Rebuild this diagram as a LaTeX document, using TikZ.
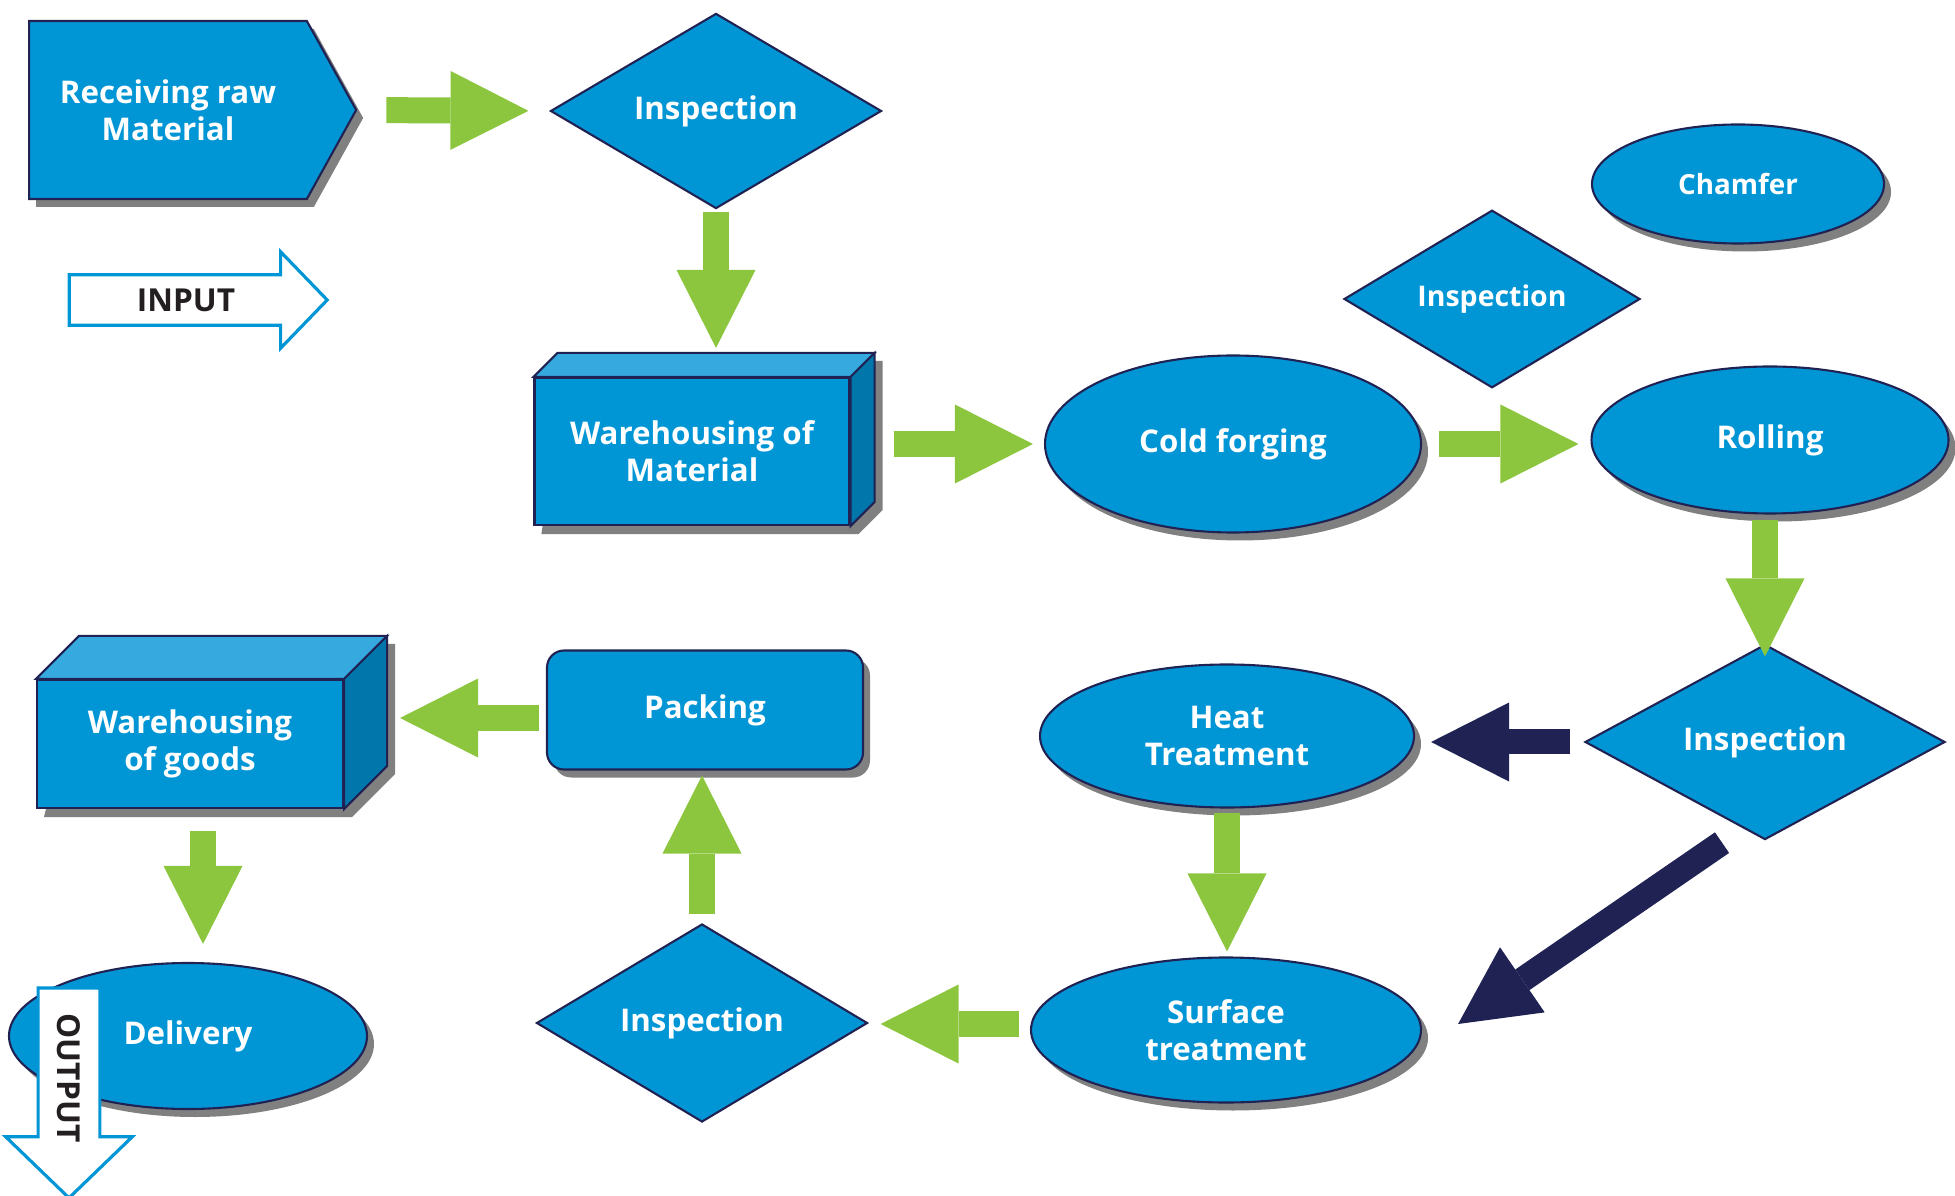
\documentclass[tikz,border=0pt]{standalone}
\usepackage{fontspec}
\setmainfont{Open Sans}
\usepackage{tikz}
\usetikzlibrary{arrows.meta, calc, positioning, shapes.geometric, shapes.symbols,
                shapes.arrows, shadows, backgrounds}
\definecolor{pBlue}{HTML}{0096D6}
\definecolor{pTop}{HTML}{36A9DF}
\definecolor{pSide}{HTML}{0076AB}
\definecolor{pNavy}{HTML}{1F2253}
\definecolor{pGreen}{HTML}{8CC63F}
\definecolor{pInk}{HTML}{231F20}

\begin{document}
\begin{tikzpicture}[
  cast/.style={drop shadow={fill=black!50, opacity=1, shadow xshift=0.07cm, shadow yshift=-0.08cm}},
  blk/.style={draw=pNavy, line width=0.6pt, fill=pBlue, text=white, align=center, inner sep=0pt,
              font=\bfseries\fontsize{8.9}{10.5}\selectfont},
  oval/.style={blk, ellipse, cast},
  check/.style={blk, diamond},
  io/.style={single arrow, draw=pBlue, line width=0.9pt, fill=white, text=pInk, inner xsep=0pt,
             single arrow tip angle=92, font=\bfseries\fontsize{9}{10}\selectfont},
  garr/.style={draw=pGreen, line width=0.26cm, -{Triangle[length=0.78cm, width=0.79cm, line width=0pt]}},
  narr/.style={garr, draw=pNavy, line width=0.25cm}]
  \useasboundingbox (0,0) rectangle (19.55,-11.96);
  % top row: raw material in
  \node[blk, signal, signal to=east, signal pointer angle=122, cast,
        minimum width=3.27cm, minimum height=1.78cm] (recv) at (1.68,-1.10) {Receiving raw\\ Material};
  \node[check, minimum width=3.31cm, minimum height=1.95cm] (insp1) at (7.16,-1.11) {Inspection};
  \node[io, inner ysep=0.122cm, single arrow head extend=0.23cm, minimum height=2.58cm,
        minimum width=0.93cm] (in) at (1.86,-3.00) {INPUT\hspace{0.10cm}};
  \node[blk, minimum width=3.15cm, minimum height=1.47cm] (wm) at (6.92,-4.515) {Warehousing of\\ Material};
  % forming
  \node[oval, minimum width=3.76cm, minimum height=1.77cm] (cold) at (12.33,-4.44) {Cold forging};
  \node[oval, minimum width=3.57cm, minimum height=1.47cm] (roll) at (17.70,-4.40) {Rolling};
  \node[oval, minimum width=2.92cm, minimum height=1.19cm, font=\bfseries\fontsize{7.9}{10}\selectfont] (cham) at (17.38,-1.84) {Chamfer};
  \node[check, minimum width=2.96cm, minimum height=1.62cm, font=\bfseries\fontsize{8.1}{10}\selectfont] (insp2) at (14.92,-2.99) {Inspection};
  \node[check, minimum width=3.60cm, minimum height=1.94cm] (insp3) at (17.65,-7.42) {Inspection};
  % treatment
  \node[oval, minimum width=3.74cm, minimum height=1.43cm] (heat) at (12.27,-7.36) {Heat\\ Treatment};
  \node[oval, minimum width=3.90cm, minimum height=1.45cm] (surf) at (12.26,-10.30) {Surface\\ treatment};
  \node[check, minimum width=3.31cm, minimum height=1.98cm] (insp4) at (7.02,-10.23) {Inspection};
  \node[blk, rounded corners=0.17cm, cast, minimum width=3.16cm, minimum height=1.19cm] (pack) at (7.05,-7.10) {Packing};
  % goods out
  \node[blk, minimum width=3.06cm, minimum height=1.28cm] (wg) at (1.90,-7.44) {Warehousing\\ of goods};
  \node[oval, minimum width=3.58cm, minimum height=1.46cm] (deliv) at (1.88,-10.36) {Delivery};
  \node[io, rotate=-90, inner ysep=0.177cm, single arrow head extend=0.325cm, minimum height=2.10cm,
        minimum width=1.23cm] (out) at (0.69,-10.78) {OUTPUT\hspace{0.18cm}};
  % the two blocks
  \foreach \n/\d in {wm/0.24, wg/0.43} {
    \begin{scope}[on background layer]
      \fill[black!50] ($(\n.south west)+(0.08,-0.08)$) -- ($(\n.north west)+(\d+0.08,\d-0.08)$)
        -- ($(\n.north east)+(\d+0.08,\d-0.08)$) -- ($(\n.south east)+(\d+0.08,\d-0.08)$)
        -- ($(\n.south east)+(0.08,-0.08)$) -- cycle;
    \end{scope}
    \filldraw[draw=pNavy, line width=0.6pt, fill=pTop] (\n.north west) -- ++(\d,\d)
      -- ($(\n.north east)+(\d,\d)$) -- (\n.north east) -- cycle;
    \filldraw[draw=pNavy, line width=0.6pt, fill=pSide] (\n.north east) -- ++(\d,\d)
      -- ($(\n.south east)+(\d,\d)$) -- (\n.south east) -- cycle;
  }
  % arrows
  \draw[garr, shorten <=0.29cm, shorten >=0.21cm] (recv.east) -- (insp1.west);
  \draw[garr, shorten <=0.02cm, shorten >=0.29cm] (insp1.south) -- (insp1.south |- wm.north);
  \draw[garr, shorten <=0.43cm, shorten >=0.11cm] (wm.east |- cold.west) -- (cold.west);
  \draw[garr, shorten <=0.17cm, shorten >=0.12cm] (cold.east) -- (cold.east -| roll.west);
  \draw[garr, shorten <=0.05cm, shorten >=-0.13cm] (roll.south -| insp3.north) -- (insp3.north);
  \draw[narr, shorten <=0.14cm, shorten >=0.16cm] (insp3.west) -- (insp3.west -| heat.east);
  \draw[narr] ([xshift=-0.43cm, yshift=-0.02cm]insp3.south) -- ([xshift=0.36cm, yshift=0.06cm]surf.east);
  \draw[garr, shorten <=0.04cm, shorten >=0.05cm] (heat.south) -- (heat.south |- surf.north);
  \draw[garr, shorten <=0.11cm, shorten >=0.12cm] ([yshift=0.06cm]surf.west) -- ([yshift=0.06cm]surf.west -| insp4.east);
  \draw[garr, shorten <=0.09cm, shorten >=0.05cm] (insp4.north) -- (insp4.north |- pack.south);
  \draw[garr, shorten <=0.07cm, shorten >=0.56cm] ([yshift=-0.08cm]pack.west) -- ([yshift=-0.08cm]pack.west -| wg.east);
  \draw[garr, shorten <=0.22cm, shorten >=0.18cm] ([xshift=0.13cm]wg.south) -- ([xshift=0.13cm]wg.south |- deliv.north);
\end{tikzpicture}
\end{document}
